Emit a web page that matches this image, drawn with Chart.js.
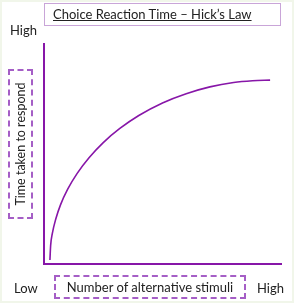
<!DOCTYPE html>
<html>
<head>
<meta charset="utf-8">
<script src="https://cdn.jsdelivr.net/npm/chart.js@4.4.1/dist/chart.umd.min.js"></script>
<style>
  html, body { margin: 0; padding: 0; background: #ffffff; }
  #wrap { position: relative; width: 294px; height: 303px; overflow: hidden; background: #fff;
          box-shadow: inset 0 0 0 2px #f1f6ea; }
  canvas { position: absolute; left: 0; top: 0; }
  .lbl { position: absolute; font-family: Lato, "Open Sans", sans-serif; color: #222; white-space: nowrap; line-height: 1; }
  #title { left: 44px; top: 3px; width: 237px; height: 23px; border: 1.5px solid #c9a5d8; box-sizing: border-box; }
  #titleText { position: absolute; left: 8px; top: 4px; font-size: 13px; text-decoration: underline; }
  #ybox { left: 8px; top: 69px; width: 25px; height: 150px; border: 2px dashed #a55ec6; box-sizing: border-box; }
  #yText { position: absolute; left: 50%; top: 50%; transform: translate(-50%, -50%) rotate(-90deg); font-size: 12.5px; }
  #xbox { left: 54px; top: 275px; width: 192px; height: 24px; border: 2px dashed #a55ec6; box-sizing: border-box; }
  #xText { position: absolute; left: 50%; top: 50%; transform: translate(-50%, -50%); font-size: 13px; }
</style>
</head>
<body>
<div id="wrap">
  <canvas id="c" width="294" height="303"></canvas>
  <div class="lbl" id="title"><span class="lbl" id="titleText"></span></div>
  <div class="lbl" id="yHigh" style="left:10px; top:24px; font-size:13px;"></div>
  <div class="lbl" id="ybox"><span class="lbl" id="yText"></span></div>
  <div class="lbl" id="xLow" style="left:14px; top:282px; font-size:13px;"></div>
  <div class="lbl" id="xbox"><span class="lbl" id="xText"></span></div>
  <div class="lbl" id="xHigh" style="left:257px; top:282px; font-size:13px;"></div>
</div>
<script>
// ---- data ----
const titleText = "Choice Reaction Time \u2013 Hick\u2019s Law";
const xAxisLabel = "Number of alternative stimuli";
const yAxisLabel = "Time taken to respond";
const xEndLabels = ["Low", "High"];
const yEndLabels = ["Low", "High"];
const stimuli =      [2.5, 2.8, 3.5, 5.0,  7.0,  10.0, 14.0, 19.0, 25.0, 32.0, 40.0, 50.0, 60.0, 70.0, 80.0, 88.0, 95.4];
const responseTime = [1.8, 8.4, 13.8, 20.6, 27.0, 34.0, 41.2, 48.3, 55.2, 61.6, 67.5, 73.2, 77.4, 80.5, 82.5, 83.3, 83.6];

document.getElementById('titleText').textContent = titleText;
document.getElementById('yText').textContent = yAxisLabel;
document.getElementById('xText').textContent = xAxisLabel;
document.getElementById('xLow').textContent = xEndLabels[0];
document.getElementById('xHigh').textContent = xEndLabels[1];
document.getElementById('yHigh').textContent = yEndLabels[1];

const purple = '#8716a8';
const points = stimuli.map((x, i) => ({ x: x, y: responseTime[i] }));

new Chart(document.getElementById('c'), {
  type: 'scatter',
  data: { datasets: [{
    data: points,
    showLine: true,
    borderColor: purple,
    borderWidth: 1.6,
    pointRadius: 0,
    cubicInterpolationMode: 'monotone',
    fill: false
  }]},
  options: {
    responsive: false,
    animation: false,
    devicePixelRatio: 1,
    layout: { padding: { left: 44, top: 44, right: 13, bottom: 39 } },
    plugins: { legend: { display: false }, tooltip: { enabled: false }, title: { display: false } },
    scales: {
      x: {
        type: 'linear', min: 0, max: 100,
        ticks: { display: false },
        grid: { display: false, drawTicks: false },
        border: { display: true, color: purple, width: 2 },
        afterFit: s => { s.height = 0; }
      },
      y: {
        type: 'linear', min: 0, max: 100,
        ticks: { display: false },
        grid: { display: false, drawTicks: false },
        border: { display: true, color: purple, width: 2 },
        afterFit: s => { s.width = 0; }
      }
    }
  }
});
</script>
</body>
</html>
